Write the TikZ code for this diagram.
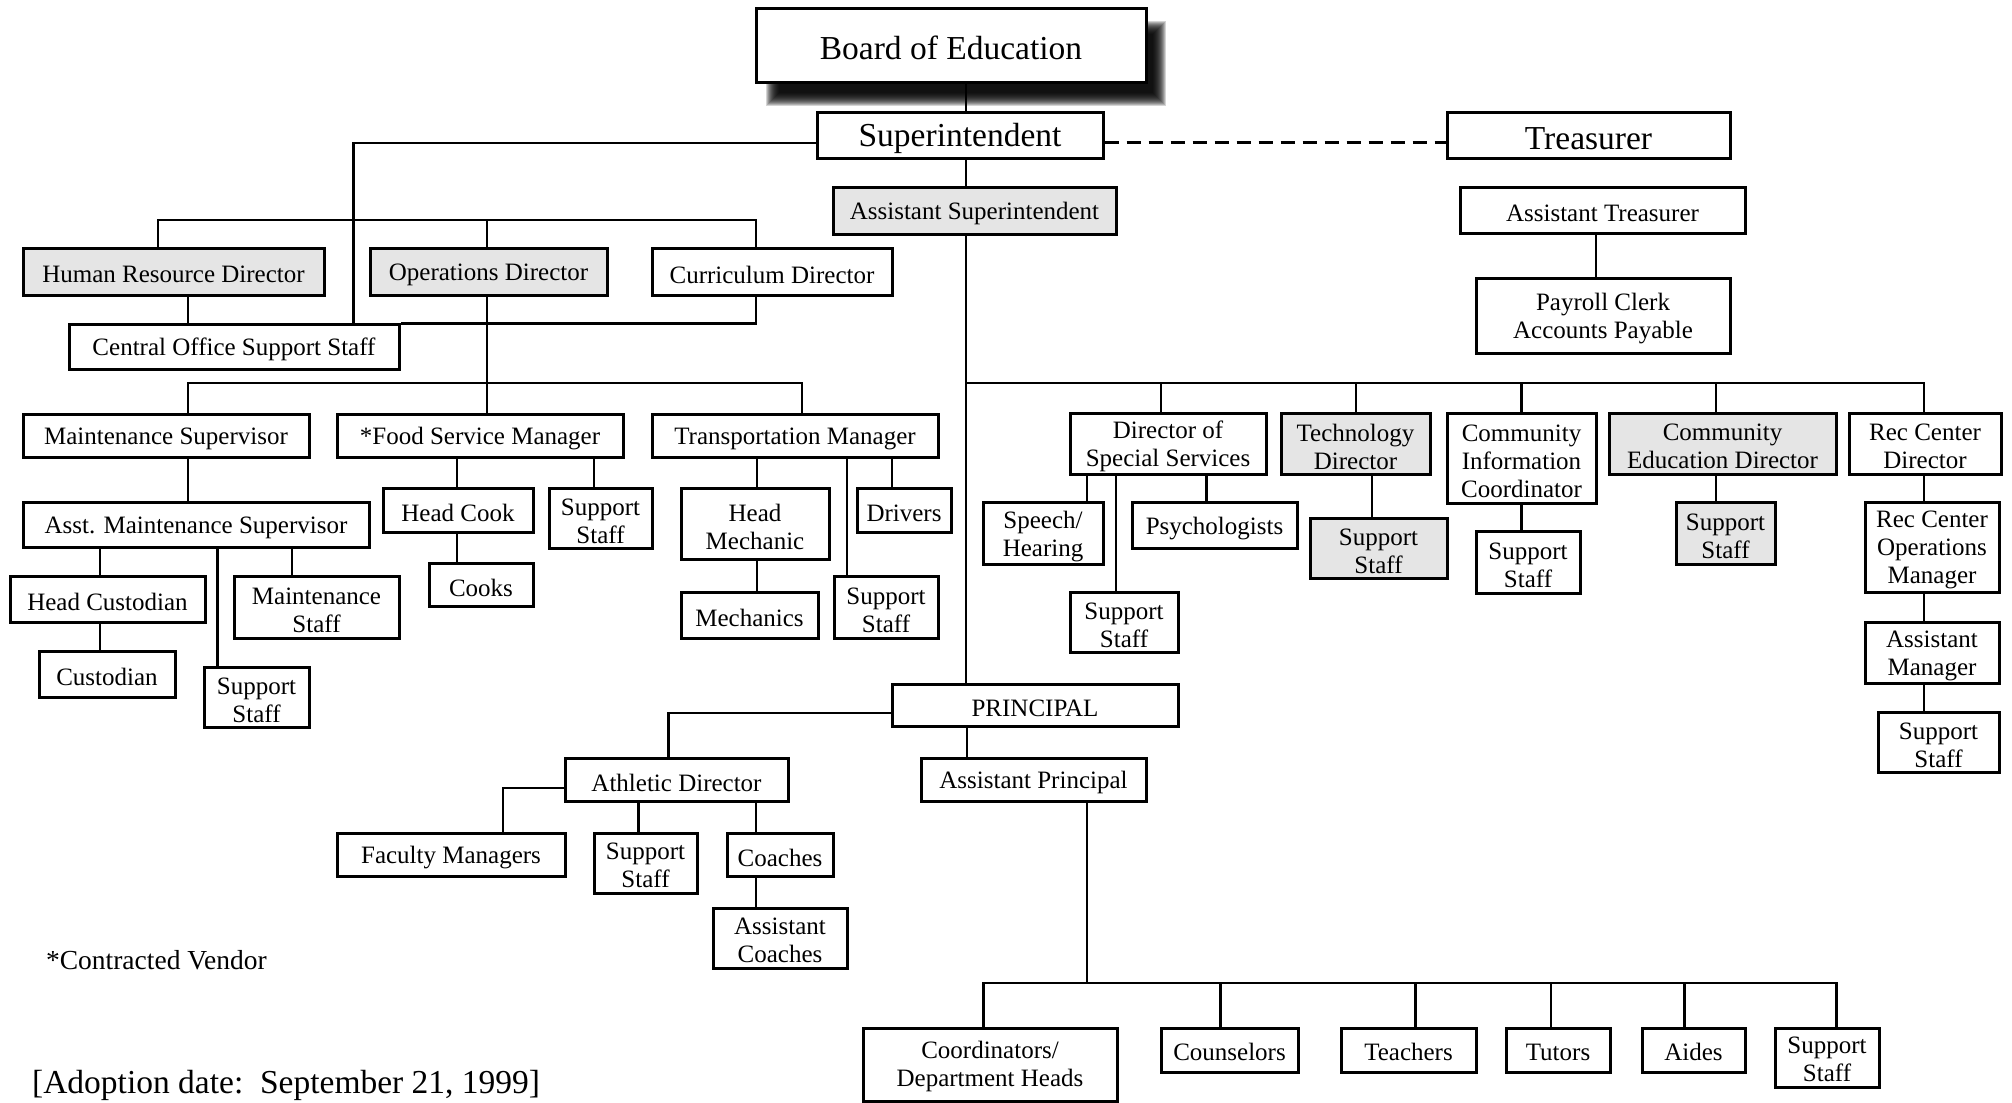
\documentclass[tikz,border=0pt]{standalone}
\usepackage{fontspec}
\setmainfont{Liberation Serif}
\tikzset{
  box/.style={draw, line width=1.2pt, fill=white, inner sep=0pt},
  boxtext/.style={inner sep=0pt, align=center, font=\fontsize{10}{11.2}\selectfont},
  gbox/.style={fill=black!10},
  big/.style={font=\fontsize{13.4}{15}\selectfont},
  conn/.style={line width=0.9pt, line join=miter},
}
\newcommand\bx[7][]{\node[box,#1,minimum width={(#5-#3)*0.4pt},minimum height={(#6-#4)*0.4pt}] (#2) at ({(#3+#5)/2},{(#4+#6)/2}) {};
  \node[boxtext,#1,fill=none] (#2-t) at ([yshift=-0.9pt]#2.center) {#7};}
\begin{document}
\begin{tikzpicture}[x=0.4pt,y=-0.4pt]
\fill[white] (0,0) rectangle (2012,1103);
\useasboundingbox (0,0) rectangle (2012,1103);
% shadow of the board box
\foreach \e in {-7,...,6} \fill[black,opacity=0.17] ({772-(\e)},{27-(\e)}) rectangle ({1160+(\e)},{100+(\e)});
% boxes
\bx[big]{boe}{756}{9}{1146}{83}{Board of Education}
\bx[big]{sup}{817}{113}{1103}{159}{Superintendent}
\bx[big]{tre}{1447}{113}{1730}{159}{Treasurer}
\bx[gbox]{asup}{833}{188}{1116}{235}{Assistant Superintendent}
\bx{atre}{1460}{188}{1745}{234}{Assistant Treasurer}
\bx{pay}{1476}{279}{1730}{354}{Payroll Clerk\\Accounts Payable}
\bx[gbox]{hr}{23}{249}{324}{296}{Human Resource Director}
\bx[gbox]{ops}{370}{249}{607}{296}{Operations Director}
\bx{cur}{652}{249}{892}{296}{Curriculum Director}
\bx{coss}{69}{325}{399}{370}{Central Office Support Staff}
\bx{ms}{23}{415}{309}{458}{Maintenance Supervisor}
\bx{fsm}{337}{415}{623}{458}{*Food Service Manager}
\bx{tm}{652}{415}{938}{458}{Transportation Manager}
\bx{ams}{23}{503}{369}{548}{Asst. Maintenance Supervisor}
\bx{hc}{10}{577}{205}{623}{Head Custodian}
\bx{mst}{234}{577}{399}{639}{Maintenance\\Staff}
\bx{cust}{39}{652}{175}{698}{Custodian}
\bx{ssa}{204}{668}{309}{728}{Support\\Staff}
\bx{hcook}{383}{489}{533}{533}{Head Cook}
\bx{ssb}{549}{489}{652}{549}{Support\\Staff}
\bx{cooks}{429}{564}{533}{607}{Cooks}
\bx{hm}{681}{489}{829}{560}{Head\\Mechanic}
\bx{drv}{857}{489}{951}{533}{Drivers}
\bx{mech}{681}{593}{818}{639}{Mechanics}
\bx{ssc}{834}{577}{938}{639}{Support\\Staff}
\bx{dss}{1070}{414}{1266}{475}{Director of\\Special Services}
\bx[gbox]{tech}{1281}{414}{1430}{475}{Technology\\Director}
\bx{cic}{1447}{414}{1596}{504}{Community\\Information\\Coordinator}
\bx[gbox]{ced}{1609}{414}{1836}{475}{Community\\Education Director}
\bx{rcd}{1849}{414}{2001}{475}{Rec Center\\Director}
\bx{sh}{983}{503}{1103}{565}{Speech/\\Hearing}
\bx{psy}{1132}{503}{1297}{549}{Psychologists}
\bx{ssd}{1070}{593}{1178}{653}{Support\\Staff}
\bx[gbox]{sse}{1310}{519}{1447}{579}{Support\\Staff}
\bx{ssf}{1476}{532}{1580}{594}{Support\\Staff}
\bx[gbox]{ssg}{1676}{503}{1775}{565}{Support\\Staff}
\bx{rcom}{1865}{503}{1999}{593}{Rec Center\\Operations\\Manager}
\bx{am}{1865}{623}{1999}{684}{Assistant\\Manager}
\bx{ssh}{1878}{713}{1999}{773}{Support\\Staff}
\bx{prin}{892}{685}{1178}{727}{PRINCIPAL}
\bx{ad}{565}{759}{788}{802}{Athletic Director}
\bx{ap}{921}{759}{1146}{802}{Assistant Principal}
\bx{fm}{337}{834}{565}{877}{Faculty Managers}
\bx{ssi}{594}{834}{697}{893}{Support\\Staff}
\bx{coach}{727}{834}{833}{877}{Coaches}
\bx{acoach}{713}{908}{847}{968}{Assistant\\Coaches}
\bx{cdh}{863}{1028}{1117}{1101}{Coordinators/\\Department Heads}
\bx{couns}{1161}{1028}{1298}{1072}{Counselors}
\bx{teach}{1341}{1028}{1476}{1072}{Teachers}
\bx{tut}{1506}{1028}{1610}{1072}{Tutors}
\bx{aid}{1642}{1028}{1745}{1072}{Aides}
\bx{ssj}{1775}{1028}{1879}{1087}{Support\\Staff}
% free texts
\node[anchor=west, inner sep=0pt, font=\fontsize{11}{13}\selectfont] (cv) at (45.6,960) {*Contracted Vendor};
\node[anchor=west, inner sep=0pt, font=\fontsize{13.4}{15}\selectfont] (adopt) at (31.6,1085) {[Adoption date:\ \ September 21, 1999]};
% connectors
\begin{scope}[conn]
\draw (966,0 |- boe.south) -- (966,0 |- sup.north);
\draw (966,0 |- sup.south) -- (966,0 |- asup.north);
\draw (sup.west |- 0,143) -| (353.6,0 |- coss.north);
\draw[line width=1.2pt, dash pattern=on 5.6pt off 3.2pt] (sup.east |- 0,143) -- (tre.west |- 0,143);
\draw (158,0 |- hr.north) |- (486.7,220) -| (756,0 |- cur.north);
\draw (486.7,220) -- (486.7,0 |- ops.north);
\draw (188,0 |- hr.south) -- (188,0 |- coss.north);
\draw (756,0 |- cur.south) |- (coss.north east);
\draw (486.7,0 |- ops.south) -- (486.7,0 |- fsm.north);
\draw (188,0 |- ms.north) |- (801.7,383) -- (801.7,0 |- tm.north);
\draw (188,0 |- ms.south) -- (188,0 |- ams.north);
\draw (100,0 |- ams.south) -- (100,0 |- hc.north);
\draw (217.5,0 |- ams.south) -- (217.5,0 |- ssa.north);
\draw (292,0 |- ams.south) -- (292,0 |- mst.north);
\draw (100,0 |- hc.south) -- (100,0 |- cust.north);
\draw (457,0 |- fsm.south) -- (457,0 |- hcook.north);
\draw (594,0 |- fsm.south) -- (594,0 |- ssb.north);
\draw (457,0 |- hcook.south) -- (457,0 |- cooks.north);
\draw (757,0 |- tm.south) -- (757,0 |- hm.north);
\draw (847,0 |- tm.south) -- (847,0 |- ssc.north);
\draw (892,0 |- tm.south) -- (892,0 |- drv.north);
\draw (757,0 |- hm.south) -- (757,0 |- mech.north);
\draw (1596.3,0 |- atre.south) -- (1596.3,0 |- pay.north);
\draw (966,0 |- asup.south) -- (966,0 |- prin.north);
\draw (966,383) -| (1924.2,0 |- rcd.north);
\draw (1161.3,383) -- (1161.3,0 |- dss.north);
\draw (1356,383) -- (1356,0 |- tech.north);
\draw (1521.5,383) -- (1521.5,0 |- cic.north);
\draw (1716,383) -- (1716,0 |- ced.north);
\draw (1087,0 |- dss.south) -- (1087,0 |- sh.north);
\draw (1116.2,0 |- dss.south) -- (1116.2,0 |- ssd.north);
\draw (1206.5,0 |- dss.south) -- (1206.5,0 |- psy.north);
\draw (1372,0 |- tech.south) -- (1372,0 |- sse.north);
\draw (1521.5,0 |- cic.south) -- (1521.5,0 |- ssf.north);
\draw (1716,0 |- ced.south) -- (1716,0 |- ssg.north);
\draw (1924.2,0 |- rcd.south) -- (1924.2,0 |- rcom.north);
\draw (1924.2,0 |- rcom.south) -- (1924.2,0 |- am.north);
\draw (1924.2,0 |- am.south) -- (1924.2,0 |- ssh.north);
\draw (prin.west |- 0,713) -| (668.5,0 |- ad.north);
\draw (966.7,0 |- prin.south) -- (966.7,0 |- ap.north);
\draw (ad.west |- 0,788) -| (503,0 |- fm.north);
\draw (638.4,0 |- ad.south) -- (638.4,0 |- ssi.north);
\draw (756.2,0 |- ad.south) -- (756.2,0 |- coach.north);
\draw (756.2,0 |- coach.south) -- (756.2,0 |- acoach.north);
\draw (1087,0 |- ap.south) -- (1087,983.3);
\draw (983.4,0 |- cdh.north) |- (1836.4,983.3) -- (1836.4,0 |- ssj.north);
\draw (1220.6,983.3) -- (1220.6,0 |- couns.north);
\draw (1415.5,983.3) -- (1415.5,0 |- teach.north);
\draw (1551,983.3) -- (1551,0 |- tut.north);
\draw (1684.5,983.3) -- (1684.5,0 |- aid.north);
\end{scope}
\end{tikzpicture}
\end{document}
